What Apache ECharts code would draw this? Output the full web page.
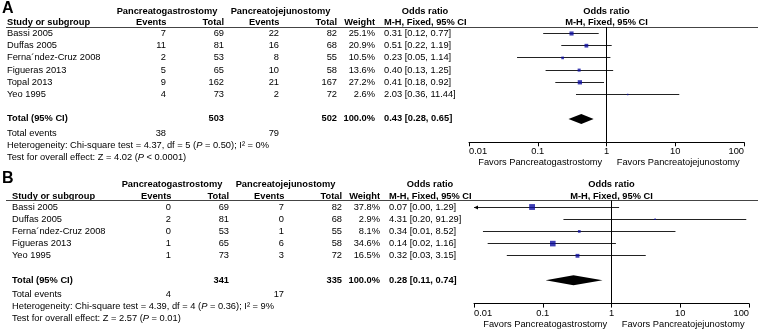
<!DOCTYPE html>
<html><head><meta charset="utf-8">
<script src="https://cdn.jsdelivr.net/npm/echarts@6/dist/echarts.min.js"></script>
<style>html,body{margin:0;padding:0;background:#fff}#c{width:758px;height:331px}</style>
</head><body><div id="c"></div>
<script>
// ---------- Panel A data ----------
const studiesA   = ['Bassi 2005','Duffas 2005','Ferna\u00b4ndez-Cruz 2008','Figueras 2013','Topal 2013','Yeo 1995'];
const pgEventsA  = [7, 11, 2, 5, 9, 4];
const pgTotalA   = [69, 81, 53, 65, 162, 73];
const pjEventsA  = [22, 16, 8, 10, 21, 2];
const pjTotalA   = [82, 68, 55, 58, 167, 72];
const weightA    = [25.1, 20.9, 10.5, 13.6, 27.2, 2.6];
const orA        = [0.31, 0.51, 0.23, 0.40, 0.41, 2.03];
const loA        = [0.12, 0.22, 0.05, 0.13, 0.18, 0.36];
const hiA        = [0.77, 1.19, 1.14, 1.25, 0.92, 11.44];
const totalsA      = [503, 502];
const totalEventsA = [38, 79];
const pooledA      = [0.43, 0.28, 0.65];
const hetA         = ['4.37', '5', '= 0.50', '0'];
const testA        = ['4.02', '< 0.0001'];

// ---------- Panel B data ----------
const studiesB   = ['Bassi 2005','Duffas 2005','Ferna\u00b4ndez-Cruz 2008','Figueras 2013','Yeo 1995'];
const pgEventsB  = [0, 2, 0, 1, 1];
const pgTotalB   = [69, 81, 53, 65, 73];
const pjEventsB  = [7, 0, 1, 6, 3];
const pjTotalB   = [82, 68, 55, 58, 72];
const weightB    = [37.8, 2.9, 8.1, 34.6, 16.5];
const orB        = [0.07, 4.31, 0.34, 0.14, 0.32];
const loB        = [0.004, 0.20, 0.0135, 0.0158, 0.03];
const hiB        = [1.29, 91.29, 8.52, 1.16, 3.15];
const totalsB      = [341, 335];
const totalEventsB = [4, 17];
const pooledB      = [0.28, 0.11, 0.74];
const hetB         = ['4.39', '4', '= 0.36', '9'];
const testB        = ['2.57', '= 0.01'];

// ---------- axis ----------
const tickValues = [0.01, 0.1, 1, 10, 100];
const tickLabels = ['0.01', '0.1', '1', '10', '100'];
const groupLabels = ['Pancreatogastrostomy', 'Pancreatojejunostomy'];
const favorsLabels = ['Favors Pancreatogastrostomy', 'Favors Pancreatojejunostomy'];

// ---------- style ----------
const FONT = '"Liberation Sans", Arial, Helvetica, sans-serif';
const FS = 9.3;
const ROWH = 12.2;
const XMIN = 0.01, XMAX = 100;

const panels = [
  {names: studiesA, pgE: pgEventsA, pgT: pgTotalA, pjE: pjEventsA, pjT: pjTotalA, w: weightA,
   or: orA, lo: loA, hi: hiA, totals: totalsA, tev: totalEventsA, pooled: pooledA, het: hetA, test: testA,
   top: 27, dx: 0, plotLeft: 469, sq: 0.82},
  {names: studiesB, pgE: pgEventsB, pgT: pgTotalB, pjE: pjEventsB, pjT: pjTotalB, w: weightB,
   or: orB, lo: loB, hi: hiB, totals: totalsB, tev: totalEventsB, pooled: pooledB, het: hetB, test: testB,
   top: 200.5, dx: 5, plotLeft: 474, sq: 0.95}
];

const fmtCI = (o, l, h) => o.toFixed(2) + ' [' + l.toFixed(2) + ', ' + h.toFixed(2) + ']';

function buildRows(p) {
  const n = p.names.length, dx = p.dx;
  const rows = [];
  rows.push({y: -1.85, cells: [
    {x: dx + 167, text: groupLabels[0], align: 'center', bold: true},
    {x: dx + 280.5, text: groupLabels[1], align: 'center', bold: true},
    {x: dx + 425, text: 'Odds ratio', align: 'center', bold: true},
    {v: 1, off: 0, text: 'Odds ratio', align: 'center', bold: true}
  ]});
  rows.push({y: -0.87, cells: [
    {x: dx + 7, text: 'Study or subgroup', align: 'left', bold: true},
    {x: dx + 166.5, text: 'Events', align: 'right', bold: true},
    {x: dx + 224, text: 'Total', align: 'right', bold: true},
    {x: dx + 279.5, text: 'Events', align: 'right', bold: true},
    {x: dx + 337, text: 'Total', align: 'right', bold: true},
    {x: dx + 375, text: 'Weight', align: 'right', bold: true},
    {x: dx + 384, text: 'M-H, Fixed, 95% CI', align: 'left', bold: true},
    {v: 1, off: 0, text: 'M-H, Fixed, 95% CI', align: 'center', bold: true}
  ], rule: true});
  for (let i = 0; i < n; i++) {
    rows.push({y: i, cells: [
      {x: dx + 7, text: p.names[i], align: 'left'},
      {x: dx + 166, text: String(p.pgE[i]), align: 'right'},
      {x: dx + 224, text: String(p.pgT[i]), align: 'right'},
      {x: dx + 279, text: String(p.pjE[i]), align: 'right'},
      {x: dx + 337, text: String(p.pjT[i]), align: 'right'},
      {x: dx + 375, text: p.w[i].toFixed(1) + '%', align: 'right'},
      {x: dx + 384, text: fmtCI(p.or[i], p.lo[i], p.hi[i]), align: 'left'}
    ]});
  }
  const wsum = p.w.reduce((a, b) => a + b, 0);
  rows.push({y: n + 1, cells: [
    {x: dx + 7, text: 'Total (95% CI)', align: 'left', bold: true},
    {x: dx + 224, text: String(p.totals[0]), align: 'right', bold: true},
    {x: dx + 337, text: String(p.totals[1]), align: 'right', bold: true},
    {x: dx + 375, text: (Math.round(wsum)).toFixed(1) + '%', align: 'right', bold: true},
    {x: dx + 384, text: fmtCI(p.pooled[0], p.pooled[1], p.pooled[2]), align: 'left', bold: true}
  ]});
  rows.push({y: n + 2.15, cells: [
    {x: dx + 7, text: 'Total events', align: 'left'},
    {x: dx + 166, text: String(p.tev[0]), align: 'right'},
    {x: dx + 279, text: String(p.tev[1]), align: 'right'}
  ]});
  rows.push({y: n + 3.18, cells: [
    {x: dx + 7, align: 'left', rich: true,
     text: 'Heterogeneity: Chi-square test = ' + p.het[0] + ', df = ' + p.het[1] + ' ({i|P} ' + p.het[2] + '); I\u00b2 = ' + p.het[3] + '%'}
  ]});
  rows.push({y: n + 4.12, cells: [
    {x: dx + 7, align: 'left', rich: true,
     text: 'Test for overall effect: Z = ' + p.test[0] + ' ({i|P} ' + p.test[1] + ')'}
  ]});
  rows.push({y: n + 4.6, cells: [
    {v: 0.1, off: 2.5, text: favorsLabels[0], align: 'center'},
    {v: 10, off: 3, text: favorsLabels[1], align: 'center'}
  ]});
  return rows;
}

const RICH = {i: {fontStyle: 'italic', fontSize: FS, fontFamily: FONT, fill: '#000'}};

function textEl(x, y, c) {
  const st = {text: c.text, x: x, y: y, fill: '#000', fontSize: FS, fontFamily: FONT,
    fontWeight: c.bold ? 'bold' : 'normal', align: c.align, verticalAlign: 'middle',
    textAlign: c.align, textVerticalAlign: 'middle'};
  if (c.rich) st.rich = RICH;
  return {type: 'text', silent: true, style: st};
}

const chart = echarts.init(document.getElementById('c'), null, {renderer: 'canvas'});
const grids = [], xAxes = [], yAxes = [], series = [];

panels.forEach((p, k) => {
  const n = p.names.length;
  const ymin = -0.533, ymax = n + 2.918;
  grids.push({left: p.plotLeft, width: 275, top: p.top, height: (ymax - ymin) * ROWH, containLabel: false});
  xAxes.push({
    gridIndex: k, type: 'log', logBase: 10, min: XMIN, max: XMAX, position: 'bottom',
    axisLine: {show: true, onZero: false, lineStyle: {color: '#000', width: 1}},
    axisTick: {show: true, length: 4, inside: false, lineStyle: {color: '#000', width: 1}},
    minorTick: {show: false}, splitLine: {show: false},
    axisLabel: {
      show: true, color: '#000', fontSize: FS, fontFamily: FONT, margin: 5,
      showMinLabel: true, showMaxLabel: true, alignMinLabel: 'left', alignMaxLabel: 'right',
      formatter: function (v) {
        for (let j = 0; j < tickValues.length; j++) {
          if (Math.abs(Math.log10(v) - Math.log10(tickValues[j])) < 1e-6) return tickLabels[j];
        }
        return '';
      }
    }
  });
  yAxes.push({gridIndex: k, type: 'value', inverse: true, min: ymin, max: ymax, show: false});

  // CI lines
  series.push({
    type: 'custom', xAxisIndex: k, yAxisIndex: k, clip: false, silent: true,
    data: p.names.map((_, i) => [p.lo[i], p.hi[i], i]),
    encode: {x: [0, 1], y: 2},
    renderItem: function (params, api) {
      const lo = api.value(0), hi = api.value(1), r = api.value(2);
      const a = api.coord([Math.max(lo, XMIN), r]);
      const b = api.coord([Math.min(hi, XMAX), r]);
      const y = Math.round(a[1] - 0.5) + 0.5;
      const children = [{type: 'line', shape: {x1: a[0], y1: y, x2: b[0], y2: y},
        style: {stroke: '#222', lineWidth: 1}}];
      if (lo < XMIN) {
        children.push({type: 'polygon', shape: {points: [[a[0], y], [a[0] + 4, y - 2], [a[0] + 4, y + 2]]},
          style: {fill: '#000'}});
      }
      if (hi > XMAX) {
        children.push({type: 'polygon', shape: {points: [[b[0], y], [b[0] - 4, y - 2], [b[0] - 4, y + 2]]},
          style: {fill: '#000'}});
      }
      return {type: 'group', children: children};
    },
    z: 2
  });

  // squares
  series.push({
    type: 'scatter', xAxisIndex: k, yAxisIndex: k, silent: true,
    data: p.names.map((_, i) => [p.or[i], i]),
    symbol: 'rect',
    symbolSize: function (val, params) { return Math.max(1.5, p.sq * Math.sqrt(p.w[params.dataIndex])); },
    itemStyle: {color: '#0c0ca0'},
    z: 3,
    markLine: {silent: true, symbol: 'none', label: {show: false}, animation: false,
      lineStyle: {color: '#000', width: 1, type: 'solid'}, data: [{xAxis: 1}]}
  });

  // pooled diamond
  series.push({
    type: 'custom', xAxisIndex: k, yAxisIndex: k, clip: false, silent: true,
    data: [[p.pooled[0], p.pooled[1], p.pooled[2], n + 1]],
    encode: {x: [0, 1, 2], y: 3},
    renderItem: function (params, api) {
      const c = api.coord([api.value(0), api.value(3)]);
      const l = api.coord([api.value(1), api.value(3)]);
      const h = api.coord([api.value(2), api.value(3)]);
      return {type: 'polygon', shape: {points: [[l[0], c[1]], [c[0], c[1] - 5], [h[0], c[1]], [c[0], c[1] + 5]]},
        style: {fill: '#000'}};
    },
    z: 3
  });

  // table text
  const rows = buildRows(p);
  series.push({
    type: 'custom', xAxisIndex: k, yAxisIndex: k, clip: false, silent: true,
    data: rows.map(r => [1, r.y]),
    encode: {x: 0, y: 1},
    renderItem: function (params, api) {
      const r = rows[params.dataIndex];
      const y = api.coord([1, api.value(1)])[1];
      const children = r.cells.map(c => {
        const x = (c.v !== undefined) ? api.coord([c.v, api.value(1)])[0] + c.off : c.x;
        return textEl(x, y, c);
      });
      if (r.rule) {
        const ry = Math.round(api.coord([1, -0.533])[1] - 0.5) + 0.5;
        children.push({type: 'line', shape: {x1: 6, y1: ry, x2: 758, y2: ry},
          style: {stroke: '#444', lineWidth: 1}});
      }
      return {type: 'group', children: children};
    },
    z: 4
  });
});

chart.setOption({
  animation: false,
  backgroundColor: '#fff',
  grid: grids, xAxis: xAxes, yAxis: yAxes, series: series,
  graphic: [
    {type: 'text', left: 2, top: 1, style: {text: 'A', fontSize: 16, fontWeight: 'bold', fontFamily: FONT, fill: '#000'}},
    {type: 'text', left: 2, top: 171, style: {text: 'B', fontSize: 16, fontWeight: 'bold', fontFamily: FONT, fill: '#000'}}
  ]
});
</script>
</body></html>
